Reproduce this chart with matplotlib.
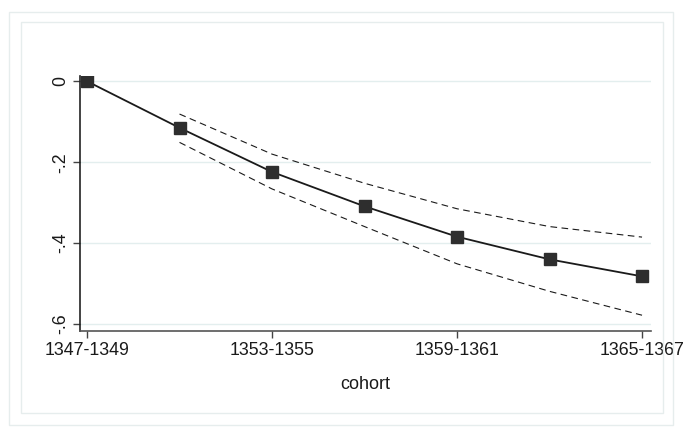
import matplotlib
matplotlib.use("Agg")
import matplotlib.pyplot as plt
from matplotlib.patches import Rectangle

plt.rcParams["font.family"] = ["Liberation Sans", "DejaVu Sans"]

# cohort index 0..6, every second one labelled
cohort_idx = [0, 1, 2, 3, 4, 5, 6]
tick_idx = [0, 2, 4, 6]
tick_labels = ["1347-1349", "1353-1355", "1359-1361", "1365-1367"]

coef = [0.0, -0.115, -0.224, -0.309, -0.384, -0.440, -0.482]
ci_idx = [1, 2, 3, 4, 5, 6]
ci_upper = [-0.081, -0.180, -0.252, -0.315, -0.359, -0.385]
ci_lower = [-0.151, -0.266, -0.359, -0.451, -0.519, -0.578]

W, H = 685, 428
fig = plt.figure(figsize=(W / 100, H / 100), dpi=100)

# graph region frames (light)
frame_col = "#e6eded"
fig.patches.append(Rectangle((9 / W, 1 - 425 / H), (673 - 9) / W, (425 - 12) / H,
                             transform=fig.transFigure, fill=False,
                             edgecolor=frame_col, lw=1.0))
fig.patches.append(Rectangle((21 / W, 1 - 413 / H), (663 - 21) / W, (413 - 22) / H,
                             transform=fig.transFigure, fill=False,
                             edgecolor=frame_col, lw=1.0))

ax = fig.add_axes([80 / W, 1 - 331 / H, (651 - 80) / W, (331 - 76) / H])

ax.plot(cohort_idx, coef, color="#1a1a1a", lw=1.3, marker="s", ms=8,
        mfc="#2e2e2e", mec="#2e2e2e", zorder=3)
ax.plot(ci_idx, ci_upper, color="#1a1a1a", lw=0.8, ls=(0, (6, 4)), zorder=2)
ax.plot(ci_idx, ci_lower, color="#1a1a1a", lw=0.8, ls=(0, (6, 4)), zorder=2)

ax.set_xlim(-0.076, 6.097)
ax.set_ylim(-0.617, 0.013)

ax.set_xticks(tick_idx)
ax.set_xticklabels(tick_labels)
ax.set_yticks([0, -0.2, -0.4, -0.6])
ax.set_yticklabels(["0", "-.2", "-.4", "-.6"], rotation=90, va="center")

ax.grid(axis="y", color="#e3eeee", lw=1.0)
ax.set_axisbelow(True)

for s in ["top", "right"]:
    ax.spines[s].set_visible(False)
ax.spines["left"].set_color("#222222")
ax.spines["bottom"].set_color("#555555")
ax.spines["left"].set_linewidth(1.2)
ax.spines["bottom"].set_linewidth(1.2)

ax.tick_params(axis="both", direction="out", length=5, width=1.0,
               color="#444444", labelsize=12.8, labelcolor="#1a1a1a")
ax.tick_params(axis="y", pad=3)
ax.tick_params(axis="x", pad=3)

ax.set_xlabel("cohort", fontsize=13, color="#1a1a1a", labelpad=12)

fig.savefig("out.png", dpi=100)
